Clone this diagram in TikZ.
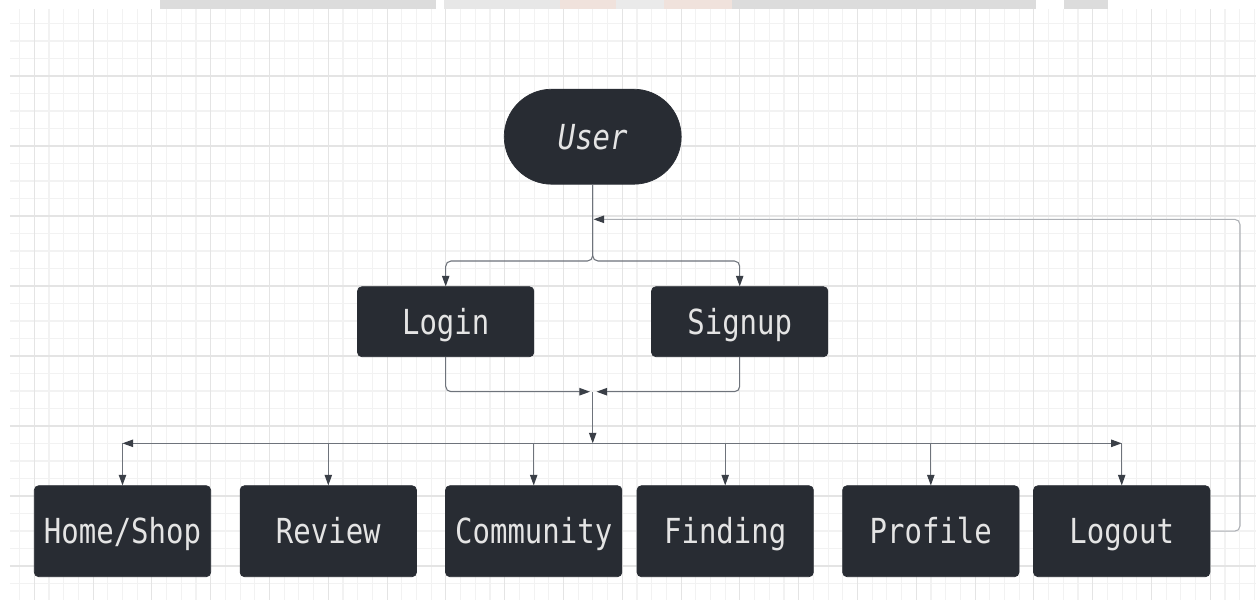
\documentclass[tikz,border=0pt]{standalone}
\usepackage{fontspec}
\setmonofont{DejaVu Sans Mono}[ItalicFont={* Oblique}]
\usepackage{graphicx}
\usetikzlibrary{arrows.meta,shapes.misc}

\definecolor{boxfill}{HTML}{282C33}
\definecolor{boxtext}{HTML}{E4E4E4}
\definecolor{linkgray}{HTML}{6E737B}
\definecolor{tipdark}{HTML}{3A3F47}
\definecolor{loopgray}{HTML}{ADB0B5}
\definecolor{gridminor}{HTML}{F2F2F2}
\definecolor{gridmajor}{HTML}{E4E4E4}
\definecolor{photogray}{HTML}{DCDCDC}
\definecolor{photopink}{HTML}{F0E2DC}

\newcommand{\boxtext}[1]{\scalebox{1}[1.19]{#1}}

\begin{document}
\begin{tikzpicture}[x=0.02cm, y=-0.02cm,
    minorline/.style={draw=gridminor, line width=0.6pt},
    majorline/.style={draw=gridmajor, line width=0.6pt},
    pagebox/.style={rectangle, rounded corners=2.5pt, fill=boxfill, draw=boxfill,
        text=boxtext, font=\ttfamily\fontsize{16.5}{18}\selectfont,
        text height=14.3pt, text depth=0pt,
        minimum width=3.528cm, minimum height=1.82cm, inner sep=0pt},
    authbox/.style={pagebox, minimum height=1.4cm},
    userbox/.style={rounded rectangle, fill=boxfill, draw=boxfill, text=boxtext,
        font=\ttfamily\fontsize{16.5}{18}\selectfont,
        text height=14.3pt, text depth=0pt,
        minimum width=3.54cm, minimum height=1.9cm, inner sep=0pt},
    flow/.style={draw=linkgray, line width=0.6pt, rounded corners=3pt,
        -{Triangle[length=6pt, width=4.2pt, color=tipdark]}},
    backflow/.style={flow, draw=loopgray}]
    \useasboundingbox (0,0) rectangle (1256,600);
    \fill[white] (0,0) rectangle (1256,600);

    \fill[photogray] (160,0) rectangle (436,9);
    \fill[photogray!70] (444,0) rectangle (560,9);
    \fill[photopink] (560,0) rectangle (616,9);
    \fill[photogray!60] (616,0) rectangle (664,9);
    \fill[photopink] (664,0) rectangle (732,9);
    \fill[photogray] (732,0) rectangle (1036,9);
    \fill[photogray] (1064,0) rectangle (1108,9);

    \foreach \k in {-1,...,83}
        \draw[minorline] ({34.3+14.7*\k},9) -- ++(0,591);
    \foreach \k in {-3,...,29}
        \draw[minorline] (10,{76+17.5*\k}) -- (1256,{76+17.5*\k});
    \foreach \k in {0,...,20}
        \draw[majorline] ({34.3+58.8*\k},9) -- ++(0,591);
    \foreach \k in {0,...,7}
        \draw[majorline] (10,{76+70*\k}) -- (1256,{76+70*\k});

    \node[userbox] (user) at (592.7,136.7) {\boxtext{\itshape User}};

    \node[authbox] (login) at (445.7,321.7) {\boxtext{Login}};
    \node[authbox] (signup) at (739.7,321.7) {\boxtext{Signup}};

    \node[pagebox] (home) at (122.5,531.2) {\boxtext{Home/Shop}};
    \node[pagebox] (review) at (328.3,531.2) {\boxtext{Review}};
    \node[pagebox] (community) at (533.7,531.2) {\boxtext{Community}};
    \node[pagebox] (finding) at (725.2,531.2) {\boxtext{Finding}};
    \node[pagebox] (profile) at (930.8,531.2) {\boxtext{Profile}};
    \node[pagebox] (logout) at (1121.7,531.2) {\boxtext{Logout}};

    \coordinate (fork) at (592.7,261);
    \coordinate (back) at (593.5,219.3);
    \coordinate (loopturn) at (1240,219.3);
    \coordinate (mergeL) at (590,391.7);
    \coordinate (mergeR) at (596.5,391.7);
    \coordinate (merge) at (592.7,391.7);
    \coordinate (bus) at (592.7,443.3);
    \coordinate (busL) at (122.5,443.3);
    \coordinate (busR) at (1121.7,443.3);

    \draw[flow] (user.south) -- (fork) -| (login.north);
    \draw[flow] (user.south) -- (fork) -| (signup.north);

    \draw[backflow] (logout.east) -| (loopturn) -- (back);

    \draw[flow] (login.south) |- (mergeL);
    \draw[flow] (signup.south) |- (mergeR);
    \draw[flow, rounded corners=0pt] (merge) -- (bus);

    \draw[flow] (bus) -- (busL);
    \draw[flow] (bus) -- (busR);
    \draw[flow] (busL) -- (home.north);
    \draw[flow] (busR) -- (logout.north);
    \draw[flow] (review.north |- bus) -- (review.north);
    \draw[flow] (community.north |- bus) -- (community.north);
    \draw[flow] (finding.north |- bus) -- (finding.north);
    \draw[flow] (profile.north |- bus) -- (profile.north);
\end{tikzpicture}
\end{document}
